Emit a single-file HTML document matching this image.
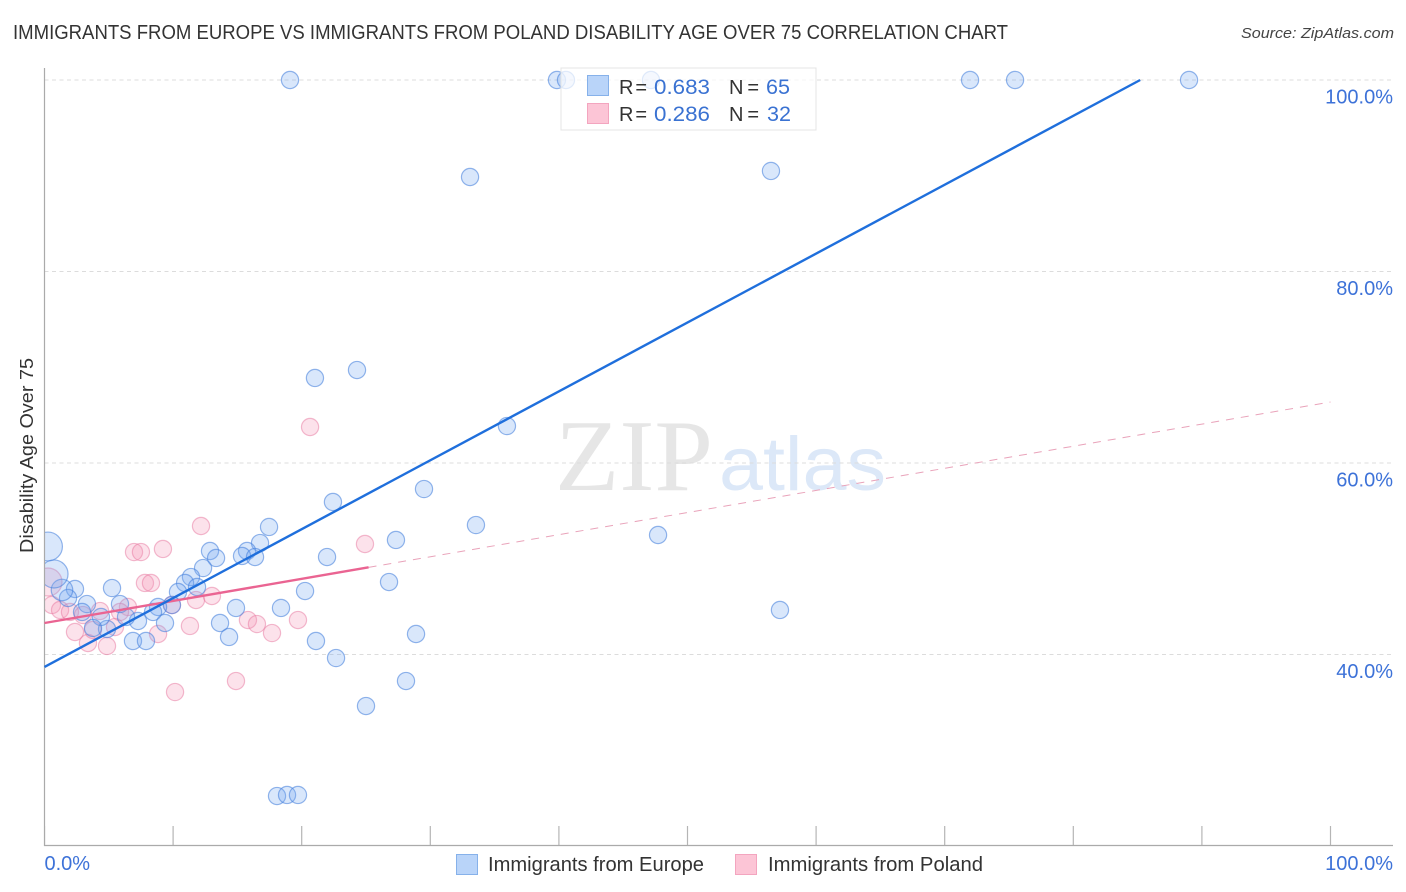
<!DOCTYPE html>
<html lang="en">
<head>
<meta charset="utf-8">
<title>Immigrants from Europe vs Immigrants from Poland Disability Age Over 75 Correlation Chart</title>
<style>
html,body{margin:0;padding:0;background:#fff;width:1406px;height:892px;overflow:hidden}
svg{display:block}
text{font-family:"Liberation Sans",sans-serif}
</style>
</head>
<body>
<svg id="chart" xmlns="http://www.w3.org/2000/svg" width="1406" height="892" viewBox="0 0 1406 892">
  <rect width="1406" height="892" fill="#fff"/>
  <text x="13" y="39" font-size="20" fill="#333" textLength="995" lengthAdjust="spacingAndGlyphs">IMMIGRANTS FROM EUROPE VS IMMIGRANTS FROM POLAND DISABILITY AGE OVER 75 CORRELATION CHART</text>
  <text x="1241" y="38" font-size="15" font-style="italic" fill="#444" textLength="153" lengthAdjust="spacingAndGlyphs">Source: ZipAtlas.com</text>
  <g>
    <text x="555" y="490" style="font-family:'Liberation Serif',serif" font-size="102" fill="#e6e6e6" textLength="158" lengthAdjust="spacingAndGlyphs">ZIP</text>
    <text x="719" y="490" font-size="76" fill="#dce8f8" textLength="167" lengthAdjust="spacingAndGlyphs">atlas</text>
  </g>
  <g id="grid"></g>
  <g id="x-ticks"></g>
  <g id="points"></g>
  <rect x="0" y="60" width="44.5" height="790" fill="#fff"/>
  <line x1="44.5" y1="68" x2="44.5" y2="846" stroke="#aaa" stroke-width="1.2"/>
  <line x1="44" y1="845.5" x2="1393" y2="845.5" stroke="#aaa" stroke-width="1.2"/>
  <g id="trends"></g>
  <g>
    <rect x="561" y="68" width="255" height="62" fill="#fff" fill-opacity="0.72" stroke="#e4e4e4" stroke-width="1"/>
    <rect x="587.5" y="75.5" width="21" height="20" fill="#b9d4f9" stroke="#86b1ea"/>
    <rect x="587.5" y="103.5" width="21" height="20" fill="#fcc5d6" stroke="#f3a5bf"/>
    <text x="619" y="94" font-size="20" fill="#333" textLength="28" lengthAdjust="spacing">R =</text>
    <text x="654" y="94" font-size="21" fill="#3a72d2" textLength="56" lengthAdjust="spacingAndGlyphs">0.683</text>
    <text x="729" y="94" font-size="20" fill="#333" textLength="30" lengthAdjust="spacing">N =</text>
    <text x="766" y="94" font-size="21" fill="#3a72d2" textLength="24" lengthAdjust="spacingAndGlyphs">65</text>
    <text x="619" y="121" font-size="20" fill="#333" textLength="28" lengthAdjust="spacing">R =</text>
    <text x="654" y="121" font-size="21" fill="#3a72d2" textLength="56" lengthAdjust="spacingAndGlyphs">0.286</text>
    <text x="729" y="121" font-size="20" fill="#333" textLength="30" lengthAdjust="spacing">N =</text>
    <text x="767" y="121" font-size="21" fill="#3a72d2" textLength="24" lengthAdjust="spacingAndGlyphs">32</text>
  </g>
  <text transform="translate(33,553) rotate(-90)" font-size="18" fill="#333" textLength="195" lengthAdjust="spacingAndGlyphs">Disability Age Over 75</text>
  <g id="y-labels"></g>
  <g id="x-labels"></g>
  <g>
    <rect x="456.5" y="854.5" width="21" height="20" fill="#b9d4f9" stroke="#86b1ea"/>
    <text x="488" y="871" font-size="20" fill="#333" textLength="216" lengthAdjust="spacingAndGlyphs">Immigrants from Europe</text>
    <rect x="735.5" y="854.5" width="21" height="20" fill="#fcc5d6" stroke="#f3a5bf"/>
    <text x="768" y="871" font-size="20" fill="#333" textLength="215" lengthAdjust="spacingAndGlyphs">Immigrants from Poland</text>
  </g>
</svg>
<script>
const xTickValues = [0, 10, 20, 30, 40, 50, 60, 70, 80, 90, 100];
const yGridValues = [100, 80, 60, 40];
const yTickLabels = ["100.0%", "80.0%", "60.0%", "40.0%"];
const xEndValues = [0, 100];
const xEndLabels = ["0.0%", "100.0%"];

const europeX = [19.09,39.85,40.55,47.16,71.97,75.47,89.0,33.09,56.49,21.03,24.3,35.96,29.51,22.43,33.55,47.71,17.46,27.33,16.76,15.75,15.36,16.37,12.87,13.34,21.97,12.33,11.39,10.93,11.86,10.38,26.79,20.26,57.19,14.89,18.39,9.91,8.83,8.44,9.37,7.27,6.34,5.87,5.25,13.65,14.35,21.11,22.67,28.89,28.11,25.0,6.88,7.89,4.86,4.39,3.77,3.30,2.92,2.37,1.83,1.36,0.74,0.27,18.08,18.86,19.71];
const europeY = [100,100,100,100,100,100,100,89.87,90.5,68.88,69.71,63.86,57.28,55.93,53.52,52.48,53.32,51.96,51.64,50.81,50.29,50.18,50.81,50.08,50.18,49.03,48.09,47.47,47.05,46.53,47.57,46.63,44.65,44.86,44.86,45.17,44.96,44.44,43.29,43.5,43.92,45.27,46.94,43.29,41.83,41.41,39.63,42.14,37.23,34.62,41.41,41.41,42.66,43.92,42.77,45.27,44.44,46.84,45.9,46.74,48.41,51.28,25.22,25.33,25.33];
const europeWeight = [1,1,1,1,1,1,1,1,1,1,1,1,1,1,1,1,1,1,1,1,1,1,1,1,1,1,1,1,1,1,1,1,1,1,1,1,1,1,1,1,1,1,1,1,1,1,1,1,1,1,1,1,1,1,1,1,1,1,1,1.25,1.63,1.68,1,1,1];

const polandX = [12.17,6.96,7.5,9.21,7.81,8.28,6.49,4.32,0.58,1.21,1.98,2.99,2.37,3.38,4.86,5.48,5.87,3.77,8.83,11.31,9.91,11.78,13.02,15.82,16.52,17.69,19.71,14.89,10.15,20.65,24.92,0.27];
const polandY = [53.42,50.7,50.7,51.02,47.47,47.47,44.96,44.54,45.17,44.65,44.44,44.12,42.35,41.2,40.89,42.87,44.44,42.56,42.14,42.98,45.17,45.69,46.11,43.6,43.18,42.24,43.6,37.23,36.08,63.76,51.54,47.57];
const polandWeight = [1,1,1,1,1,1,1,1,1,1,1,1,1,1,1,1,1,1,1,1,1,1,1,1,1,1,1,1,1,1,1,1.63];

const europeTrendX = [0, 85.2];
const europeTrendY = [38.7, 100];
const polandSolidX = [0, 25.2];
const polandSolidY = [43.29, 49.1];
const polandDashX = [25.2, 100];
const polandDashY = [49.1, 66.37];

const NS = 'http://www.w3.org/2000/svg';
const baseRadius = 8.6;
function xScale(v) { return 44.5 + v * 12.86; }
function yScale(v) { return 80 + (100 - v) * 9.575; }
function make(tag, parentId, attrs) {
  const el = document.createElementNS(NS, tag);
  for (const k in attrs) el.setAttribute(k, attrs[k]);
  document.getElementById(parentId).appendChild(el);
  return el;
}

yGridValues.forEach(function (v, i) {
  const line = make('line', 'grid', { x1: 44.5, x2: 1393, y1: yScale(v), y2: yScale(v), stroke: '#dcdcdc', 'stroke-width': 1, 'stroke-dasharray': '4 3.5' });
  
  
  const label = make('text', 'y-labels', { x: 1393, y: yScale(v) + 23.5, 'text-anchor': 'end', 'font-size': 20, fill: '#3d72d8' });
  
  
  label.textContent = yTickLabels[i];
});

xTickValues.forEach(function (v) {
  const tick = make('line', 'x-ticks', { x1: xScale(v), x2: xScale(v), y1: 826, y2: 845, stroke: '#b5b5b5', 'stroke-width': 1.2 });
  
  
});

xEndValues.forEach(function (v, i) {
  const label = make('text', 'x-labels', { x: i === 0 ? xScale(v) : 1393, y: 870, 'text-anchor': i === 0 ? 'start' : 'end', 'font-size': 20, fill: '#3d72d8' });
  
  
  label.textContent = xEndLabels[i];
});

polandX.forEach(function (v, i) {
  const c = make('circle', 'points', { cx: xScale(v), cy: yScale(polandY[i]), r: baseRadius * polandWeight[i], fill: 'rgba(246,150,182,0.28)', stroke: 'rgba(232,120,160,0.5)', 'stroke-width': 1.2 });
  
  
});

europeX.forEach(function (v, i) {
  const c = make('circle', 'points', { cx: xScale(v), cy: yScale(europeY[i]), r: baseRadius * europeWeight[i], fill: 'rgba(120,170,240,0.28)', stroke: 'rgba(70,130,220,0.58)', 'stroke-width': 1.2 });
  
  
});

const dash = make('line', 'trends', { x1: xScale(polandDashX[0]), y1: yScale(polandDashY[0]), x2: xScale(polandDashX[1]), y2: yScale(polandDashY[1]), stroke: '#e9a3ba', 'stroke-width': 1, 'stroke-dasharray': '8 7' });



const solid = make('line', 'trends', { x1: xScale(polandSolidX[0]), y1: yScale(polandSolidY[0]), x2: xScale(polandSolidX[1]), y2: yScale(polandSolidY[1]), stroke: '#ea6492', 'stroke-width': 2.4 });



const blueLine = make('line', 'trends', { x1: xScale(europeTrendX[0]), y1: yScale(europeTrendY[0]), x2: xScale(europeTrendX[1]), y2: yScale(europeTrendY[1]), stroke: '#1f6fdc', 'stroke-width': 2.4 });


</script>
</body>
</html>
